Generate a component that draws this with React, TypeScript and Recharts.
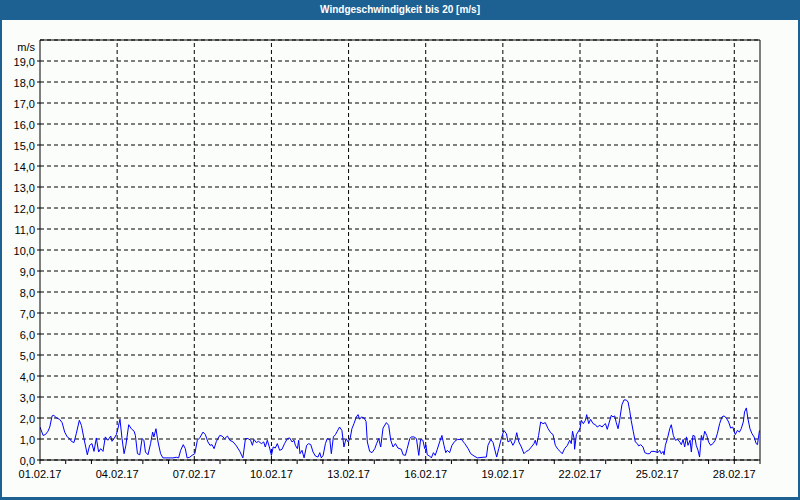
import React from 'react';
import { LineChart, Line, XAxis, YAxis, CartesianGrid, ReferenceLine } from 'recharts';

const TITLE = 'Windgeschwindigkeit bis 20 [m/s]';
const UNIT = 'm/s';

// time in days since 01.02.17 00:00
const days = [
  0, 0.12, 0.21, 0.31, 0.38, 0.47, 0.54, 0.64, 0.76, 0.86,
  0.96, 1.06, 1.15, 1.22, 1.32, 1.41, 1.53, 1.61, 1.71, 1.84,
  1.93, 2.02, 2.10, 2.19, 2.28, 2.36, 2.45, 2.54, 2.64, 2.75,
  2.80, 2.88, 2.97, 3.03, 3.11, 3.19, 3.27, 3.34, 3.45, 3.55,
  3.66, 3.71, 3.79, 3.88, 3.97, 4.04, 4.10, 4.20, 4.30, 4.38,
  4.43, 4.51, 4.59, 4.69, 4.78, 4.98, 5.17, 5.30, 5.39, 5.47,
  5.57, 5.65, 5.72, 5.82, 5.91, 6.02, 6.12, 6.21, 6.34, 6.43,
  6.53, 6.61, 6.69, 6.77, 6.86, 6.99, 7.08, 7.18, 7.29, 7.38,
  7.51, 7.64, 7.77, 7.89, 7.99, 8.09, 8.19, 8.26, 8.32, 8.41,
  8.50, 8.61, 8.70, 8.76, 8.84, 8.93, 9.00, 9.07, 9.15, 9.23,
  9.32, 9.41, 9.51, 9.62, 9.71, 9.80, 9.88, 9.93, 10.01, 10.06,
  10.11, 10.19, 10.27, 10.37, 10.45, 10.53, 10.62, 10.71, 10.81, 10.88,
  10.94, 11.01, 11.10, 11.17, 11.27, 11.33, 11.41, 11.49, 11.56, 11.65,
  11.74, 11.82, 11.90, 11.98, 12.06, 12.13, 12.21, 12.30, 12.37, 12.43,
  12.50, 12.60, 12.68, 12.73, 12.82, 12.91, 13.02, 13.09, 13.17, 13.25,
  13.34, 13.47, 13.56, 13.64, 13.73, 13.82, 13.92, 14.05,
  14.12, 14.21, 14.28, 14.38, 14.44, 14.54, 14.64, 14.73, 14.80, 14.89,
  14.96, 15.01, 15.06, 15.15, 15.22, 15.30, 15.37, 15.45, 15.54, 15.63,
  15.71, 15.78, 15.84, 15.93, 16.02, 16.13, 16.23, 16.39, 16.52, 16.65,
  16.75, 16.88, 17.01, 17.23, 17.36, 17.42, 17.53, 17.62, 17.71, 17.76,
  17.84, 17.94, 18.04, 18.14, 18.20, 18.30, 18.39, 18.46, 18.54, 18.62,
  18.72, 18.82, 18.91, 19.00, 19.11, 19.21, 19.26, 19.31, 19.39, 19.47,
  19.56, 19.65, 19.76, 19.86, 19.95, 20.04, 20.14, 20.25, 20.31, 20.40,
  20.51, 20.60, 20.66, 20.71, 20.77, 20.79, 20.86, 20.92, 21.00, 21.05,
  21.13, 21.21, 21.26, 21.34, 21.41, 21.51, 21.60, 21.67, 21.77, 21.86,
  21.93, 21.99, 22.06, 22.14, 22.22, 22.28, 22.35, 22.41, 22.48, 22.54,
  22.63, 22.71, 22.80, 22.87, 22.93, 22.99, 23.07, 23.15, 23.23, 23.28,
  23.36, 23.45, 23.52, 23.62, 23.71, 23.77, 23.88, 23.97, 24.03, 24.10,
  24.16, 24.23, 24.27, 24.32, 24.40, 24.49, 24.55, 24.63, 24.71, 24.79,
  24.88, 24.94, 25.01, 25.07, 25.14, 25.20, 25.28, 25.33, 25.39, 25.46,
  25.52, 25.59, 25.65, 25.72, 25.78, 25.85, 25.93, 26.00, 26.08, 26.17,
  26.26, 26.34, 26.43, 26.52, 26.60, 26.69, 26.78, 26.86, 26.94, 26.99,
  27.04, 27.12, 27.20, 27.27, 27.35, 27.40, 27.47, 27.53, 27.61, 27.69,
  27.77, 27.85, 27.90, 27.98,
];

const speeds = [
  1.57, 1.17, 1.21, 1.37, 1.57, 2.10, 2.13, 2.00, 1.94, 1.78,
  1.33, 1.10, 1.02, 0.89, 0.83, 1.25, 1.89, 1.65, 1.02, 0.25,
  0.70, 0.78, 0.41, 1.05, 0.38, 0.54, 0.41, 1.10, 0.94, 1.14,
  0.89, 1.02, 1.21, 1.49, 1.94, 1.02, 0.30, 0.70, 1.68, 1.49,
  1.37, 1.17, 0.30, 0.25, 1.02, 0.94, 0.38, 0.25, 0.78, 1.33,
  1.10, 1.49, 0.86, 0.30, 0.10, 0.10, 0.10, 0.13, 0.10, 0.46,
  0.73, 0.54, 0.10, 0.13, 0.22, 0.30, 0.94, 1.05, 1.33, 1.21,
  0.86, 0.70, 0.73, 0.54, 0.89, 1.17, 1.14, 1.02, 1.14, 0.94,
  0.86, 0.67, 0.41, 0.10, 1.02, 1.02, 0.94, 0.70, 0.98, 0.83,
  0.89, 0.78, 0.86, 0.62, 0.94, 0.57, 0.22, 0.62, 0.57, 0.78,
  0.46, 0.51, 0.78, 1.02, 1.05, 0.86, 0.94, 0.70, 0.54, 0.94,
  0.30, 0.46, 0.10, 0.70, 0.78, 0.73, 0.38, 0.19, 0.14, 0.35,
  0.10, 0.22, 0.78, 1.02, 0.98, 0.30, 1.10, 1.21, 1.37, 1.57,
  1.41, 0.62, 1.02, 0.86, 1.02, 1.49, 1.73, 2.05, 2.16, 1.94,
  2.05, 2.00, 1.84, 0.86, 0.41, 0.35, 0.54, 0.78, 1.02, 0.62,
  1.52, 1.78, 1.65, 0.94, 0.62, 0.78, 0.57, 0.51,
  0.25, 0.22, 0.54, 1.02, 1.10, 1.10, 1.02, 0.22, 0.98, 0.94,
  0.54, 0.70, 0.25, 0.19, 0.10, 0.35, 0.22, 0.51, 0.86, 1.17,
  0.70, 0.35, 0.46, 0.35, 0.70, 0.89, 0.98, 0.98, 0.78, 0.54,
  0.30, 0.19, 0.10, 0.13, 0.14, 0.70, 0.98, 0.83, 0.38, 0.14,
  0.54, 1.02, 1.41, 1.25, 0.86, 0.94, 0.70, 0.86, 1.30, 0.86,
  0.62, 0.30, 0.41, 0.46, 0.62, 0.78, 0.94, 0.70, 1.17, 1.81,
  1.73, 1.78, 1.49, 1.30, 1.21, 0.70, 0.51, 0.38, 0.30, 0.54,
  0.70, 0.94, 0.78, 1.37, 1.02, 0.51, 1.21, 1.33, 1.49, 1.89,
  1.73, 1.89, 2.16, 1.73, 1.94, 1.73, 1.68, 1.57, 1.65, 1.57,
  1.68, 1.73, 1.46, 1.81, 2.13, 2.05, 2.10, 1.78, 1.49, 1.89,
  2.63, 2.86, 2.86, 2.76, 2.37, 1.89, 1.37, 0.86, 0.78, 0.67,
  0.73, 0.62, 0.35, 0.30, 0.30, 0.41, 0.41, 0.38, 0.35, 0.46,
  0.30, 0.41, 0.25, 0.70, 1.02, 1.49, 1.68, 1.17, 0.94, 0.98,
  0.86, 0.73, 0.98, 0.62, 1.10, 0.70, 0.94, 0.38, 1.17, 1.14,
  0.70, 0.46, 0.14, 1.17, 0.94, 1.37, 1.17, 0.86, 0.70, 0.78,
  0.94, 1.25, 1.73, 2.05, 2.10, 2.00, 1.81, 1.52, 1.57, 1.37,
  1.21, 1.41, 1.33, 1.49, 1.81, 2.29, 2.48, 1.97, 1.49, 1.25,
  1.10, 0.78, 0.73, 1.41,
];

const dayTicks = [0, 1, 2, 3, 4, 5, 6, 7, 8, 9, 10, 11, 12, 13, 14, 15, 16, 17, 18, 19, 20, 21, 22, 23, 24, 25, 26, 27, 28];
const labelDays = [0, 3, 6, 9, 12, 15, 18, 21, 24, 27];
const dateLabels = ['01.02.17', '04.02.17', '07.02.17', '10.02.17', '13.02.17', '16.02.17', '19.02.17', '22.02.17', '25.02.17', '28.02.17'];
const gridDays = [3, 6, 9, 12, 15, 18, 21, 24, 27];
const yTicks = [0, 1, 2, 3, 4, 5, 6, 7, 8, 9, 10, 11, 12, 13, 14, 15, 16, 17, 18, 19, 20];

const data = days.map((d, i) => ({ d, v: speeds[i] }));

const FONT = '"Liberation Sans", Arial, sans-serif';
const BLUE = '#1D6193';
const DASH = '4 3';

const XTick = (props: any) => {
  const { x, y, payload } = props;
  const idx = labelDays.indexOf(payload.value);
  if (idx < 0) return null;
  return (
    <text x={x} y={y + 12} textAnchor="middle" fontFamily={FONT} fontSize={11} fill="#000">
      {dateLabels[idx]}
    </text>
  );
};

const YTick = (props: any) => {
  const { x, y, payload } = props;
  const v = payload.value;
  if (v === 20) {
    return (
      <text x={x} y={y + 11} textAnchor="end" fontFamily={FONT} fontSize={11} fill="#000">
        {UNIT}
      </text>
    );
  }
  return (
    <g>
      <line x1={x + 2} x2={x + 5} y1={y} y2={y} stroke="#000" />
      <text x={x} y={y + 5} textAnchor="end" fontFamily={FONT} fontSize={11} fill="#000">
        {v.toFixed(1).replace('.', ',')}
      </text>
    </g>
  );
};

export default function App() {
  return (
    <div style={{ position: 'absolute', left: 0, top: 0, width: 800, height: 500, background: BLUE }}>
      <div
        style={{
          position: 'absolute', left: 0, top: 0, width: 800, height: 20,
          color: '#fff', fontFamily: FONT, fontWeight: 'bold', fontSize: 10,
          lineHeight: '20px', textAlign: 'center',
        }}
      >
        {TITLE}
      </div>
      <div style={{ position: 'absolute', left: 2, top: 20, width: 796, height: 477, background: '#FBFDFB' }} />
      <div style={{ position: 'absolute', left: 0, top: 0 }}>
        <LineChart width={800} height={500} data={data} margin={{ top: 40, right: 40, left: 0, bottom: 0 }}>
          <CartesianGrid vertical={false} stroke="#000" strokeDasharray={DASH} />
          {gridDays.map((g) => (
            <ReferenceLine key={g} x={g} stroke="#000" strokeDasharray={DASH} />
          ))}
          <XAxis
            dataKey="d"
            type="number"
            domain={[0, 28]}
            ticks={dayTicks}
            interval={0}
            height={40}
            axisLine={{ stroke: '#000' }}
            tickLine={{ stroke: '#000' }}
            tickSize={4}
            tick={<XTick />}
            allowDataOverflow
          />
          <YAxis
            type="number"
            domain={[0, 20]}
            ticks={yTicks}
            interval={0}
            width={40}
            axisLine={{ stroke: '#000' }}
            tickLine={false}
            tickSize={4}
            tickMargin={1}
            tick={<YTick />}
          />
          <ReferenceLine y={20} stroke="#000" />
          <ReferenceLine x={28} stroke="#000" />
          <Line
            type="linear"
            dataKey="v"
            stroke="#0000FF"
            strokeWidth={1}
            dot={false}
            isAnimationActive={false}
          />
        </LineChart>
      </div>
    </div>
  );
}
